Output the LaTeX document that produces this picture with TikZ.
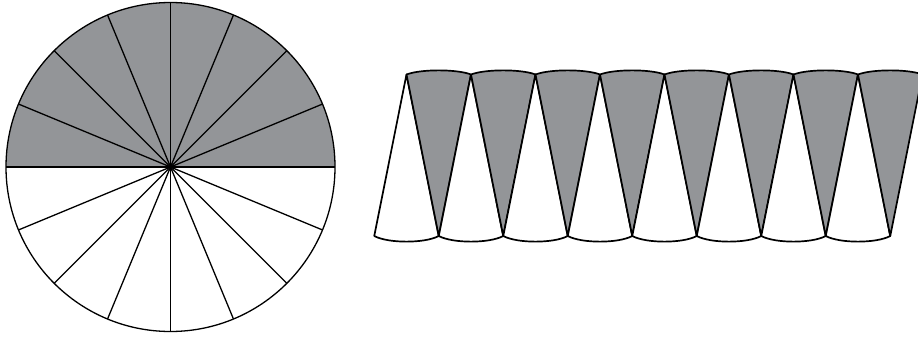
\documentclass[tikz,border=0pt]{standalone}
\usetikzlibrary{calc}
\definecolor{sectgray}{RGB}{147,149,152}
\begin{document}
\begin{tikzpicture}[x=1pt,y=1pt,
  edge/.style={draw=black,line width=1.7pt,line join=round},
  cedge/.style={draw=black,line width=1.3pt}]
\useasboundingbox (0,0) rectangle (918,341);
\coordinate (O) at (170.5,174);
\def\r{164.5}
% circle
\fill[sectgray] (O) ++(0:\r) arc[start angle=0,end angle=180,radius=\r] -- cycle;
\foreach \a in {0,22.5,...,337.5}{
  \draw[cedge] (O) -- ++(\a:\r);
}
\draw[cedge] (O) circle[radius=\r];
% strip
\foreach \i in {0,...,7}{
  \coordinate (w\i) at ({406.5+64.5*\i},266.5);
  \coordinate (wl\i) at ({374.25+64.5*\i},105);
  \coordinate (wr\i) at ({438.75+64.5*\i},105);
  \coordinate (g\i) at ({438.75+64.5*\i},105);
  \coordinate (gl\i) at ({406.5+64.5*\i},266.5);
  \coordinate (gr\i) at ({471+64.5*\i},266.5);
  \filldraw[edge,fill=white] (w\i) -- (wl\i)
     .. controls ($(wl\i)+(14,-7.5)$) and ($(wr\i)+(-14,-7.5)$) .. (wr\i) -- cycle;
  \filldraw[edge,fill=sectgray] (g\i) -- (gr\i)
     .. controls ($(gr\i)+(-14,5.5)$) and ($(gl\i)+(14,5.5)$) .. (gl\i) -- cycle;
}
\end{tikzpicture}
\end{document}
